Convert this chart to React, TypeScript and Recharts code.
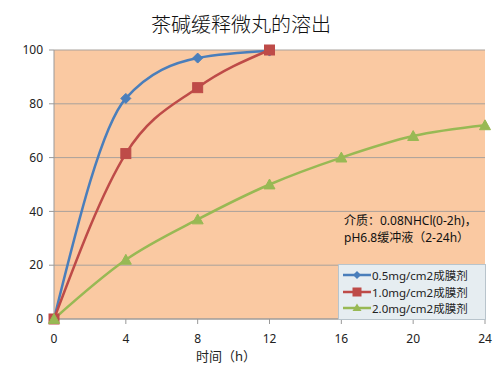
import React from 'react';
import { LineChart, Line, XAxis, YAxis, CartesianGrid } from 'recharts';

const hours = [0, 4, 8, 12, 16, 20, 24];
const s05 = [0, 82, 97, 99.6, null, null, null];
const s10 = [0, 61.5, 86, 100, null, null, null];
const s20 = [0, 22, 37, 50, 60, 68, 72];
const seriesNames = ['0.5mg/cm2成膜剂', '1.0mg/cm2成膜剂', '2.0mg/cm2成膜剂'];
const xTicks = [0, 4, 8, 12, 16, 20, 24];
const yTicks = [0, 20, 40, 60, 80, 100];
const title = '茶碱缓释微丸的溶出';
const xTitle = '时间（h）';
const note1 = '介质：0.08NHCl(0-2h)，';
const note2 = 'pH6.8缓冲液（2-24h）';

const colors = ['#4A7EBB', '#BE4B48', '#98B954'];
const FONT = '"Noto Sans", "Noto Sans CJK SC", sans-serif';

const data = hours.map((h, i) => ({ h, a: s05[i], b: s10[i], c: s20[i] }));

const Diamond = (props: any) => {
  const { cx, cy, index } = props;
  if (cx == null || cy == null) return <g key={'d' + index} />;
  const r = 5;
  return <polygon key={'d' + index} points={`${cx},${cy - r} ${cx + r},${cy} ${cx},${cy + r} ${cx - r},${cy}`} fill={colors[0]} stroke={colors[0]} />;
};
const Square = (props: any) => {
  const { cx, cy, index } = props;
  if (cx == null || cy == null) return <g key={'s' + index} />;
  const r = 5;
  return <rect key={'s' + index} x={cx - r} y={cy - r} width={2 * r} height={2 * r} fill={colors[1]} stroke={colors[1]} />;
};
const Tri = (props: any) => {
  const { cx, cy, index } = props;
  if (cx == null || cy == null) return <g key={'t' + index} />;
  const r = 5.5;
  return <polygon key={'t' + index} points={`${cx},${cy - r} ${cx + r},${cy + r * 0.8} ${cx - r},${cy + r * 0.8}`} fill={colors[2]} stroke={colors[2]} />;
};

const markerIcons = [
  (c: string) => <polygon points="14,3 18,7 14,11 10,7" fill={c} />,
  (c: string) => <rect x={9.5} y={2.5} width={9} height={9} fill={c} />,
  (c: string) => <polygon points="14,2.5 18.5,10 9.5,10" fill={c} />,
];

const LegendBox = () => (
  <div style={{ position: 'absolute', left: 338, top: 264, background: '#E6EDF1', border: '1px solid #B8C4CC', padding: '2px 4px 2px 4px', width: 148, boxSizing: 'border-box' }}>
    {seriesNames.map((n, i) => (
      <div key={n} style={{ display: 'flex', alignItems: 'center', height: 16.5, fontSize: 11.5, color: '#222', fontFamily: FONT, whiteSpace: 'nowrap' }}>
        <svg width={28} height={14} style={{ marginRight: 1 }}>
          <line x1={0} y1={7} x2={28} y2={7} stroke={colors[i]} strokeWidth={2.5} />
          {markerIcons[i](colors[i])}
        </svg>
        <span>{n}</span>
      </div>
    ))}
  </div>
);

export default function App() {
  return (
    <div style={{ position: 'absolute', left: 0, top: 0, width: 500, height: 377, background: '#fff', fontFamily: FONT }}>
      <div style={{ position: 'absolute', left: 0, width: 482, top: 10, textAlign: 'center', fontSize: 20, color: '#111', fontFamily: '"Noto Sans CJK SC", serif', fontWeight: 300, lineHeight: '28px' }}>{title}</div>
      <LineChart width={500} height={377} data={data} margin={{ top: 50, right: 15, left: 0, bottom: 28 }}>
        <CartesianGrid vertical={false} stroke="#A9A29C" strokeWidth={1} fill="#FAC9A2" fillOpacity={1} />
        <XAxis dataKey="h" type="number" domain={[0, 24]} ticks={xTicks} height={30} axisLine={{ stroke: '#999' }} tickLine={{ stroke: '#999' }} tickSize={5} tick={{ fill: '#222', fontSize: 12, fontFamily: FONT }} tickMargin={10} />
        <YAxis type="number" domain={[0, 100]} ticks={yTicks} width={54} axisLine={{ stroke: '#999' }} tickLine={{ stroke: '#999' }} tickSize={5} tick={{ fill: '#222', fontSize: 12, fontFamily: FONT }} tickMargin={6} />
        <Line name={seriesNames[0]} dataKey="a" type="monotone" stroke={colors[0]} strokeWidth={2.5} dot={Diamond} isAnimationActive={false} connectNulls={false} />
        <Line name={seriesNames[1]} dataKey="b" type="monotone" stroke={colors[1]} strokeWidth={2.5} dot={Square} isAnimationActive={false} connectNulls={false} />
        <Line name={seriesNames[2]} dataKey="c" type="monotone" stroke={colors[2]} strokeWidth={2.5} dot={Tri} isAnimationActive={false} connectNulls={false} />
      </LineChart>
      <LegendBox />
      <div style={{ position: 'absolute', left: 344, top: 212, fontSize: 12, color: '#111', lineHeight: '17px', whiteSpace: 'nowrap' }}>
        <div>{note1}</div>
        <div>{note2}</div>
      </div>
      <div style={{ position: 'absolute', left: 196, top: 346, fontSize: 13, color: '#222', whiteSpace: 'nowrap' }}>{xTitle}</div>
    </div>
  );
}
